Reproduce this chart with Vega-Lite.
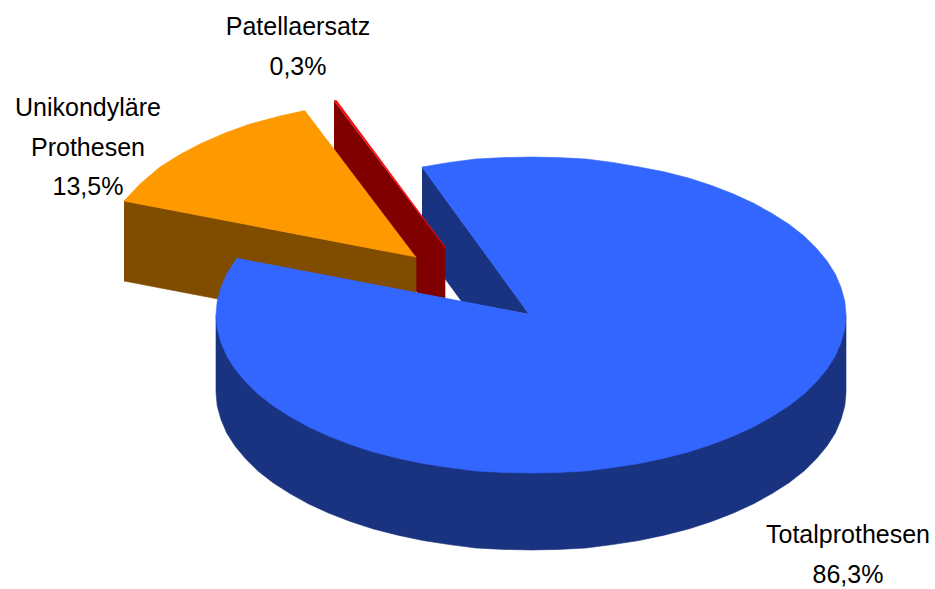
{
"$schema":"https://vega.github.io/schema/vega-lite/v6.json",
"width":935,"height":589,
"autosize":{"type":"fit","contains":"padding"},
"padding":0,
"background":"#ffffff",
"view":{"stroke":null},
"layer":[
{"data":{"name":"shapes","values":[
{"part":"Total inner wall","seq":0,"x":422,"y":167},{"part":"Total inner wall","seq":1,"x":529,"y":314},{"part":"Total inner wall","seq":2,"x":462,"y":302},{"part":"Total inner wall","seq":3,"x":422,"y":247},
{"part":"Patella wall","seq":0,"x":334,"y":101},{"part":"Patella wall","seq":1,"x":445,"y":248},{"part":"Patella wall","seq":2,"x":445,"y":330},{"part":"Patella wall","seq":3,"x":334,"y":180},
{"part":"Patella top","seq":0,"x":334,"y":100.5},{"part":"Patella top","seq":1,"x":336.5,"y":100.5},{"part":"Patella top","seq":2,"x":445,"y":247},{"part":"Patella top","seq":3,"x":445,"y":248},
{"part":"Uni wall","seq":0,"x":124,"y":201},{"part":"Uni wall","seq":1,"x":416,"y":257},{"part":"Uni wall","seq":2,"x":416,"y":337},{"part":"Uni wall","seq":3,"x":124,"y":281},
{"part":"Uni top","seq":0,"x":416,"y":257},{"part":"Uni top","seq":1,"x":124,"y":201},{"part":"Uni top","seq":2,"x":140,"y":184},{"part":"Uni top","seq":3,"x":160,"y":167},{"part":"Uni top","seq":4,"x":180,"y":154.5},{"part":"Uni top","seq":5,"x":200,"y":144},{"part":"Uni top","seq":6,"x":225,"y":133},{"part":"Uni top","seq":7,"x":250,"y":124},{"part":"Uni top","seq":8,"x":280,"y":116},{"part":"Uni top","seq":9,"x":305,"y":110.5},
{"part":"Total side","seq":0,"x":846,"y":315},{"part":"Total side","seq":1,"x":846,"y":392},{"part":"Total side","seq":2,"x":844.8,"y":405.8},{"part":"Total side","seq":3,"x":841,"y":419.5},{"part":"Total side","seq":4,"x":835.3,"y":432.9},{"part":"Total side","seq":5,"x":827,"y":446},{"part":"Total side","seq":6,"x":816.4,"y":458.8},{"part":"Total side","seq":7,"x":804,"y":471},{"part":"Total side","seq":8,"x":789,"y":482.7},{"part":"Total side","seq":9,"x":772,"y":493.6},{"part":"Total side","seq":10,"x":753.7,"y":503.7},{"part":"Total side","seq":11,"x":733.5,"y":513},{"part":"Total side","seq":12,"x":711.7,"y":521.4},{"part":"Total side","seq":13,"x":688.5,"y":529},{"part":"Total side","seq":14,"x":664,"y":535.2},{"part":"Total side","seq":15,"x":639,"y":540.5},{"part":"Total side","seq":16,"x":612.5,"y":544.6},{"part":"Total side","seq":17,"x":586,"y":548},{"part":"Total side","seq":18,"x":558.5,"y":549.4},{"part":"Total side","seq":19,"x":531,"y":550},{"part":"Total side","seq":20,"x":503.6,"y":549.4},{"part":"Total side","seq":21,"x":476,"y":548},{"part":"Total side","seq":22,"x":449.5,"y":544.6},{"part":"Total side","seq":23,"x":423,"y":540.5},{"part":"Total side","seq":24,"x":398,"y":535.2},{"part":"Total side","seq":25,"x":373.5,"y":529},{"part":"Total side","seq":26,"x":350.3,"y":521.4},{"part":"Total side","seq":27,"x":328.5,"y":513},{"part":"Total side","seq":28,"x":308.3,"y":503.7},{"part":"Total side","seq":29,"x":290,"y":493.6},{"part":"Total side","seq":30,"x":273,"y":482.7},{"part":"Total side","seq":31,"x":258,"y":471},{"part":"Total side","seq":32,"x":245.6,"y":458.8},{"part":"Total side","seq":33,"x":235,"y":446},{"part":"Total side","seq":34,"x":226.7,"y":432.9},{"part":"Total side","seq":35,"x":221,"y":419.5},{"part":"Total side","seq":36,"x":217.2,"y":405.8},{"part":"Total side","seq":37,"x":216,"y":392},{"part":"Total side","seq":38,"x":216,"y":315},
{"part":"Total top","seq":0,"x":529,"y":314},{"part":"Total top","seq":1,"x":422,"y":167},{"part":"Total top","seq":2,"x":449.5,"y":162.4},{"part":"Total top","seq":3,"x":476,"y":159},{"part":"Total top","seq":4,"x":503.6,"y":157.6},{"part":"Total top","seq":5,"x":531,"y":157},{"part":"Total top","seq":6,"x":558.5,"y":157.6},{"part":"Total top","seq":7,"x":586,"y":159},{"part":"Total top","seq":8,"x":612.5,"y":162.4},{"part":"Total top","seq":9,"x":639,"y":167},{"part":"Total top","seq":10,"x":664,"y":171.8},{"part":"Total top","seq":11,"x":688.5,"y":178},{"part":"Total top","seq":12,"x":711.7,"y":185.6},{"part":"Total top","seq":13,"x":733.5,"y":194},{"part":"Total top","seq":14,"x":753.7,"y":203.3},{"part":"Total top","seq":15,"x":772,"y":213.4},{"part":"Total top","seq":16,"x":789,"y":224.3},{"part":"Total top","seq":17,"x":804,"y":236},{"part":"Total top","seq":18,"x":816.4,"y":248.2},{"part":"Total top","seq":19,"x":827,"y":261},{"part":"Total top","seq":20,"x":835.3,"y":274.1},{"part":"Total top","seq":21,"x":841,"y":287.5},{"part":"Total top","seq":22,"x":844.8,"y":301.2},{"part":"Total top","seq":23,"x":846,"y":315},{"part":"Total top","seq":24,"x":844.8,"y":328.8},{"part":"Total top","seq":25,"x":841,"y":342.5},{"part":"Total top","seq":26,"x":835.3,"y":355.9},{"part":"Total top","seq":27,"x":827,"y":369},{"part":"Total top","seq":28,"x":816.4,"y":381.8},{"part":"Total top","seq":29,"x":804,"y":394},{"part":"Total top","seq":30,"x":789,"y":405.7},{"part":"Total top","seq":31,"x":772,"y":416.6},{"part":"Total top","seq":32,"x":753.7,"y":426.7},{"part":"Total top","seq":33,"x":733.5,"y":436},{"part":"Total top","seq":34,"x":711.7,"y":444.4},{"part":"Total top","seq":35,"x":688.5,"y":452},{"part":"Total top","seq":36,"x":664,"y":458.2},{"part":"Total top","seq":37,"x":639,"y":463.5},{"part":"Total top","seq":38,"x":612.5,"y":467.6},{"part":"Total top","seq":39,"x":586,"y":471},{"part":"Total top","seq":40,"x":558.5,"y":472.4},{"part":"Total top","seq":41,"x":531,"y":473},{"part":"Total top","seq":42,"x":503.6,"y":472.4},{"part":"Total top","seq":43,"x":476,"y":471},{"part":"Total top","seq":44,"x":449.5,"y":467.6},{"part":"Total top","seq":45,"x":423,"y":463.5},{"part":"Total top","seq":46,"x":398,"y":458.2},{"part":"Total top","seq":47,"x":373.5,"y":452},{"part":"Total top","seq":48,"x":350.3,"y":444.4},{"part":"Total top","seq":49,"x":328.5,"y":436},{"part":"Total top","seq":50,"x":308.3,"y":426.7},{"part":"Total top","seq":51,"x":290,"y":416.6},{"part":"Total top","seq":52,"x":273,"y":405.7},{"part":"Total top","seq":53,"x":258,"y":394},{"part":"Total top","seq":54,"x":245.6,"y":381.8},{"part":"Total top","seq":55,"x":235,"y":369},{"part":"Total top","seq":56,"x":226.7,"y":355.9},{"part":"Total top","seq":57,"x":221,"y":342.5},{"part":"Total top","seq":58,"x":217.2,"y":328.8},{"part":"Total top","seq":59,"x":216,"y":315},{"part":"Total top","seq":60,"x":217.2,"y":301.2},{"part":"Total top","seq":61,"x":221,"y":287.5},{"part":"Total top","seq":62,"x":226.7,"y":274.1},{"part":"Total top","seq":63,"x":237,"y":258}
]},
"mark":{"type":"line","strokeWidth":0.6,"strokeJoin":"round","clip":false},
"encoding":{
"x":{"field":"x","type":"quantitative","axis":null,"scale":{"domain":[0,935],"nice":false,"zero":false}},
"y":{"field":"y","type":"quantitative","axis":null,"scale":{"domain":[589,0],"nice":false,"zero":false}},
"order":{"field":"seq","type":"quantitative"},
"fill":{"field":"part","type":"nominal","legend":null,"sort":null,"scale":{"domain":["Total inner wall","Patella wall","Patella top","Uni wall","Uni top","Total side","Total top"],"range":["#1A3380","#800000","#FF0000","#804D00","#FF9900","#1A3380","#3366FF"]}},
"stroke":{"field":"part","type":"nominal","legend":null,"sort":null,"scale":{"domain":["Total inner wall","Patella wall","Patella top","Uni wall","Uni top","Total side","Total top"],"range":["#1A3380","#800000","#FF0000","#804D00","#FF9900","#1A3380","#3366FF"]}}
}},
{"data":{"name":"labels","values":[
{"label":"Patellaersatz\n0,3%","share":0.3,"px":298,"py":35},
{"label":"Unikondyläre\nProthesen\n13,5%","share":13.5,"px":88,"py":116},
{"label":"Totalprothesen\n86,3%","share":86.3,"px":848,"py":543}
]},
"mark":{"type":"text","font":"Liberation Sans","fontSize":25,"lineBreak":"\n","lineHeight":39.5,"align":"center","baseline":"alphabetic","color":"#000000"},
"encoding":{
"x":{"field":"px","type":"quantitative","axis":null,"scale":{"domain":[0,935],"nice":false,"zero":false}},
"y":{"field":"py","type":"quantitative","axis":null,"scale":{"domain":[589,0],"nice":false,"zero":false}},
"text":{"field":"label"}
}}
]
}
